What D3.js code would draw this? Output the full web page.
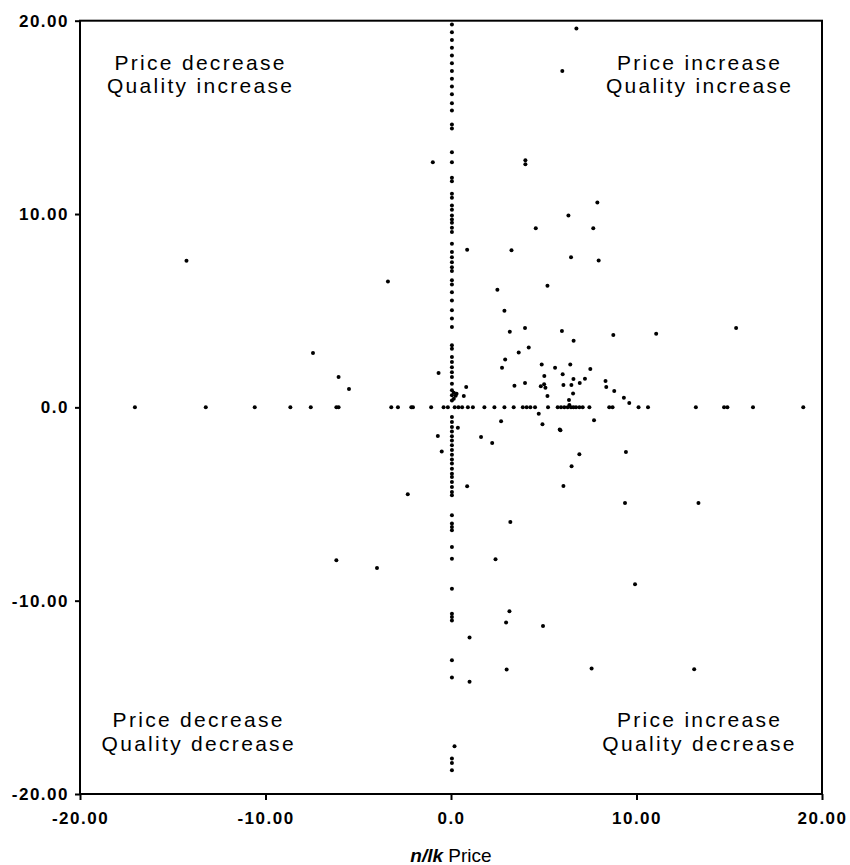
<!DOCTYPE html>
<html>
<head>
<meta charset="utf-8">
<script src="https://cdn.jsdelivr.net/npm/d3@7/dist/d3.min.js"></script>
<style>
  html, body { margin: 0; padding: 0; background: #fff; }
  svg { display: block; }
</style>
</head>
<body>
<svg id="chart" width="850" height="865"></svg>
<script>
// ---- Data ----
const xTicks = [-20, -10, 0, 10, 20];
const xTickLabels = ["-20.00", "-10.00", "0.0", "10.00", "20.00"];
const yTicks = [-20, -10, 0, 10, 20];
const yTickLabels = ["-20.00", "-10.00", "0.0", "10.00", "20.00"];

// points lying on the vertical line (price change ~0)
const columnX = 0.05;
const columnY = [19.8, 19.4, 19.0, 18.6, 18.2, 17.8, 17.4, 17.0, 16.6, 16.2,
  15.73, 15.36, 14.63, 14.43, 13.2, 12.68, 11.88, 11.7, 11.05, 10.84, 10.44, 10.22,
  9.93, 9.72, 9.55, 9.29, 9.07, 8.46, 8.03, 7.77, 7.51, 7.25, 7.05, 6.57, 6.36, 5.96,
  5.53, 5.02, 4.59, 4.15, 3.21, 3.03, 2.6, 2.34, 2.08, 1.82, 1.57, 1.22, 0.88, 0.62, 0.36,
  -0.5, -0.76, -1.02, -1.25, -1.5, -1.71, -1.96, -2.2, -2.45, -2.7, -2.91, -3.17, -3.43,
  -3.6, -3.86, -4.12, -4.38, -4.55, -5.58, -6.01, -6.19, -6.36, -7.23, -7.83, -9.38,
  -10.67, -10.84, -11.02, -13.08, -13.98, -18.17, -18.4, -18.77];

// points lying on the horizontal line (quality change ~0)
const rowY = 0;
const rowX = [-17.04, -13.22, -10.58, -8.66, -7.56, -6.18, -6.06, -3.22, -2.86, -2.14,
  -2.05, -1.07, -0.4, -0.17, 0.2, 0.4, 0.6, 0.91, 1.18, 1.8, 2.34, 2.88, 3.38, 3.87,
  4.08, 4.28, 4.53, 5.23, 5.75, 5.93, 6.11, 6.29, 6.47, 6.6, 6.74, 6.92, 7.1, 7.46,
  8.53, 8.71, 10.11, 10.62, 13.2, 14.72, 14.9, 16.28, 18.99];

// remaining scattered points: price change (x)
const scatterX = [-0.98, 0.87, -14.26, -3.4, -7.44, -6.06, -5.5, -0.67, 0.82, 0.69,
  0.15, 0.25, 0.15, 0.3, 0.37, -0.71, -0.5, 0.87, -2.33, -6.18, -3.99, 1.0, 1.0,
  0.19, 1.62, 2.22, 5.9, 6.92, 9.43, 6.5, 6.06, 9.38, 13.34, 3.2, 2.4, 9.92, 3.15,
  2.97, 4.96, 3.0, 7.58, 13.11,
  4.01, 4.01, 7.89, 6.33, 4.57, 7.67, 3.26, 6.47, 7.96, 5.2, 2.5, 2.88, 3.17, 3.99,
  5.98, 6.61, 8.75, 11.06, 15.37, 4.19, 3.65, 2.92, 2.75, 4.89, 5.61, 6.43, 7.51,
  5.03, 6.02, 6.6, 7.22, 6.94, 8.33, 8.37, 8.8, 9.32, 9.61, 3.42, 3.99, 4.84, 5.02,
  5.09, 6.06, 6.49, 6.58, 5.2, 6.36, 6.38, 4.73, 2.7, 4.93, 7.71, 5.86, 6.0, 6.76];
// remaining scattered points: quality change (y)
const scatterY = [12.68, 8.15, 7.58, 6.51, 2.81, 1.57, 0.95, 1.78, 1.05, 0.59,
  0.75, 0.6, 0.45, 0.7, -1.05, -1.48, -2.28, -4.08, -4.5, -7.91, -8.31, -11.91, -14.2,
  -17.53, -1.53, -1.84, -1.19, -2.43, -2.31, -3.05, -4.07, -4.95, -4.95, -5.93, -7.86,
  -9.15, -10.55, -11.13, -11.31, -13.56, -13.51, -13.55,
  12.78, 12.58, 10.6, 9.93, 9.27, 9.27, 8.12, 7.76, 7.6, 6.29, 6.08, 5.0, 3.91, 4.1,
  3.95, 3.45, 3.74, 3.81, 4.1, 3.09, 2.84, 2.47, 2.05, 2.22, 2.05, 2.22, 1.98,
  1.62, 1.71, 1.47, 1.48, 1.26, 1.36, 1.05, 0.84, 0.5, 0.22, 1.12, 1.26, 1.09, 1.19,
  1.02, 1.15, 1.15, 0.71, 0.59, 0.38, 0.12, -0.33, -0.72, -0.88, -0.67, -1.14, 17.4, 19.6];

const quadrantLabels = [
  { lines: ["Price decrease", "Quality increase"], x: -13.5, y: 17.45 },
  { lines: ["Price increase", "Quality increase"], x: 13.4, y: 17.45 },
  { lines: ["Price decrease", "Quality decrease"], x: -13.6, y: -16.55 },
  { lines: ["Price increase", "Quality decrease"], x: 13.4, y: -16.55 }
];

// ---- Layout ----
const svg = d3.select("#chart");
const plotLeft = 80, plotRight = 822, plotTop = 20.7, plotBottom = 794;
const x = d3.scaleLinear().domain([-20, 20]).range([plotLeft, plotRight]);
const y = d3.scaleLinear().domain([-20, 20]).range([plotBottom, plotTop]);

const points = [];
columnY.forEach(v => points.push([columnX, v]));
rowX.forEach(v => points.push([v, rowY]));
scatterX.forEach((v, i) => points.push([v, scatterY[i]]));

svg.append("g")
  .selectAll("circle")
  .data(points)
  .join("circle")
  .attr("cx", d => x(d[0]))
  .attr("cy", d => y(d[1]))
  .attr("r", 2)
  .attr("fill", "#000");

// frame
svg.append("rect")
  .attr("x", plotLeft).attr("y", plotTop)
  .attr("width", plotRight - plotLeft).attr("height", plotBottom - plotTop)
  .attr("fill", "none").attr("stroke", "#000").attr("stroke-width", 2);

const tickFont = "'Liberation Sans', Arial, Helvetica, sans-serif";

// x axis
const xAxis = svg.append("g")
  .attr("transform", `translate(0,${plotBottom})`)
  .call(d3.axisBottom(x).tickValues(xTicks)
    .tickFormat((d, i) => xTickLabels[i]).tickSize(6).tickPadding(12));
xAxis.select(".domain").remove();
xAxis.selectAll("line").attr("stroke", "#000").attr("stroke-width", 2);
xAxis.selectAll("text")
  .attr("fill", "#000")
  .style("font-family", tickFont)
  .style("font-size", "17px")
  .style("font-weight", "bold")
  .style("letter-spacing", "1.5px");

// y axis
const yAxis = svg.append("g")
  .attr("transform", `translate(${plotLeft},0)`)
  .call(d3.axisLeft(y).tickValues(yTicks)
    .tickFormat((d, i) => yTickLabels[i]).tickSize(5).tickPadding(6));
yAxis.select(".domain").remove();
yAxis.selectAll("line").attr("stroke", "#000").attr("stroke-width", 2);
yAxis.selectAll("text")
  .attr("fill", "#000")
  .style("font-family", tickFont)
  .style("font-size", "17px")
  .style("font-weight", "bold")
  .style("letter-spacing", "1.5px");

// quadrant labels
quadrantLabels.forEach(q => {
  const t = svg.append("text")
    .attr("text-anchor", "middle")
    .attr("x", x(q.x))
    .attr("y", y(q.y))
    .style("font-family", tickFont)
    .style("font-size", "21px")
    .style("letter-spacing", "2.3px")
    .attr("fill", "#000");
  q.lines.forEach((ln, i) => {
    t.append("tspan").attr("x", x(q.x)).attr("dy", i === 0 ? 0 : 23.5).text(ln);
  });
});

// x-axis title
const title = svg.append("text")
  .attr("x", x(0))
  .attr("y", 862)
  .attr("text-anchor", "middle")
  .style("font-family", tickFont)
  .style("font-size", "19px")
  .attr("fill", "#000");
title.append("tspan").style("font-weight", "bold").style("font-style", "italic").text("n/lk");
title.append("tspan").text(" Price");
</script>
</body>
</html>
